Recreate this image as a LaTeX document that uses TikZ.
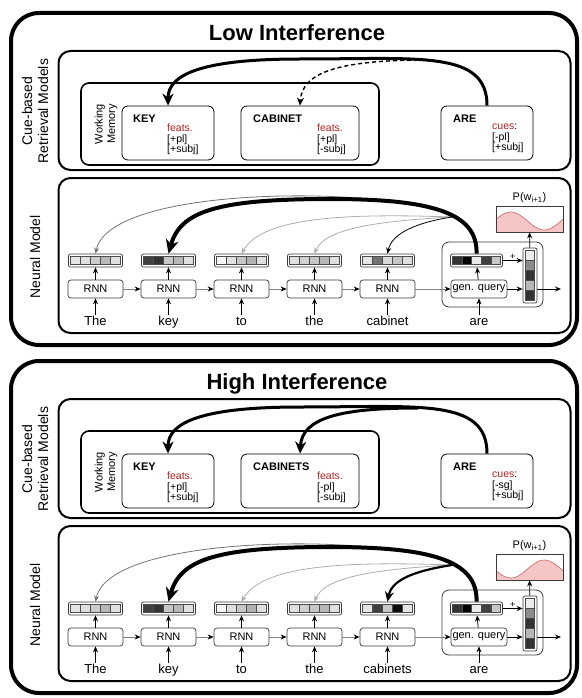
\documentclass[tikz,border=0pt]{standalone}
\usepackage{fontspec}
\setmainfont{Liberation Sans}
\usetikzlibrary{arrows.meta}
\definecolor{featred}{HTML}{B22222}
\definecolor{plotpink}{HTML}{F6C6C6}
\definecolor{plotline}{HTML}{C86464}
\definecolor{boxgray}{HTML}{3A3A3A}
\tikzset{
  outerbox/.style={draw, line width=4pt, rounded corners=28pt},
  panel/.style={draw, line width=2pt, rounded corners=12pt},
  wmbox/.style={draw, line width=1.6pt, rounded corners=8pt},
  itembox/.style={draw, line width=0.8pt, rounded corners=6pt},
  grpbox/.style={draw=boxgray, line width=0.8pt, rounded corners=7pt},
  itemname/.style={anchor=base west, inner sep=0pt, font=\bfseries\fontsize{11}{13}\selectfont},
  featlab/.style={anchor=north west, inner sep=0pt, align=left, font=\fontsize{10.5}{10.5}\selectfont},
  sidelab/.style={rotate=90, align=center, font=\fontsize{14}{16}\selectfont},
  rnnbox/.style={draw=boxgray, line width=0.7pt, rounded corners=3pt, minimum width=55pt, minimum height=18pt, inner sep=0pt, font=\fontsize{11}{13}\selectfont},
  vecbox/.style={draw=boxgray, line width=0.7pt, rounded corners=2pt, minimum width=54pt, minimum height=13pt, inner sep=0pt},
  cell/.style={draw=black!70, line width=0.5pt},
  word/.style={font=\fontsize{13}{15}\selectfont, text height=9.5pt, text depth=3pt, inner sep=1pt},
  uparr/.style={line width=0.8pt, -{Stealth[length=6pt,width=5pt]}},
  flowarr/.style={draw=black!50, line width=0.8pt, -{Stealth[length=6pt,width=5pt,color=black]}},
  cuearr/.style={line width=3pt, -{Stealth[length=12pt,width=11pt]}},
  cuedash/.style={line width=1.4pt, dash pattern=on 4pt off 3pt, -{Stealth[length=8pt,width=7pt]}},
  attnthick/.style={line width=4pt, -{Stealth[length=14pt,width=13pt]}},
  attnmid/.style={line width=2.2pt, -{Stealth[length=10pt,width=9pt]}},
  attnthin/.style={line width=0.8pt, -{Stealth[length=6pt,width=5pt]}}
}
\begin{document}
\begin{tikzpicture}[x=1pt, y=-1pt]
\useasboundingbox (0,0) rectangle (581,698);
\foreach \dy/\ttl/\noun/\nfeat/\cue/\word/\amp in {0/Low Interference/CABINET/+pl/-pl/cabinet/9, 348/High Interference/CABINETS/-pl/-sg/cabinets/-9}{
\begin{scope}[shift={(0,\dy)}]
\ifnum\dy=0 \def\vfive{10,55,15,22,12}\else\def\vfive{10,75,22,95,10}\fi
\node[outerbox, minimum width=566pt, minimum height=332pt] (outer) at (294,179) {};
\node[font=\bfseries\fontsize{22}{26}\selectfont, anchor=base] (title) at (297,41) {\ttl};
% cue-based retrieval
\node[panel, minimum width=512pt, minimum height=119pt] (cuepanel) at (314.5,110.5) {};
\node[sidelab] (cuelab) at (35,111) {Cue-based\\Retrieval Models};
\node[wmbox, minimum width=298pt, minimum height=82pt] (wm) at (230,124) {};
\node[rotate=90, align=center, font=\fontsize{11}{12.5}\selectfont] (wmlab) at (106,124) {Working\\Memory};
\node[itembox, minimum width=92pt, minimum height=54pt] (keyb) at (168,133) {};
\node[itembox, minimum width=118pt, minimum height=54pt] (cabb) at (300,133) {};
\node[itembox, minimum width=92pt, minimum height=54pt] (areb) at (487,133) {};
\node[itemname] (keyn) at (133,122) {KEY};
\node[featlab] (keyf) at (167,124) {\textcolor{featred}{feats.}\\{[+pl]}\\{[+subj]}};
\node[itemname] (cabn) at (253,122) {\noun};
\node[featlab] (cabf) at (317,124) {\textcolor{featred}{feats.}\\{[\nfeat]}\\{[-subj]}};
\node[itemname] (aren) at (453,122) {ARE};
\node[featlab] (aref) at (492,124) {\textcolor{featred}{cues}:\\{[\cue]}\\{[+subj]}};
\coordinate (split) at (418,60);
\draw[cuearr] (areb.north) .. controls (487,50) and (420,59) .. (300,59) .. controls (200,59) and (168,75) .. (keyb.north);
\ifnum\dy=0
  \draw[cuedash] (split) .. controls (340,61) and (302,72) .. (cabb.north);
\else
  \draw[cuearr] (split) .. controls (340,60) and (302,70) .. (cabb.north);
\fi
% neural model
\node[panel, minimum width=512pt, minimum height=155pt] (nnpanel) at (314.5,255.5) {};
\node[sidelab] (nnlab) at (35,257) {Neural Model};
\edef\cols{95.5/The/{10,12,20,28,12},168.5/key/{75,80,22,28,12},241.5/to/{3,12,22,30,12},314.5/the/{12,18,22,28,12},387.5/\word/{\vfive}}
\foreach \x/\w/\sh [count=\i] in \cols {
  \node[rnnbox] (rnn\i) at (\x,289) {RNN};
  \node[vecbox] (vec\i) at (\x,260.5) {};
  \foreach \s [count=\j] in \sh
    \filldraw[cell, fill=black!\s] ({\x-25+(\j-1)*10},256.5) rectangle +(10,8);
  \node[word] (w\i) at (\x,322) {\w};
  \draw[uparr] (w\i) -- (rnn\i);
  \draw[uparr] (rnn\i) -- (vec\i);
}
\foreach \i/\j in {1/2,2/3,3/4,4/5}
  \draw[flowarr] (rnn\i) -- (rnn\j);
\node[grpbox, minimum width=101pt, minimum height=65pt] (grp) at (492.5,274.5) {};
\node[rnnbox, minimum width=56pt] (gq) at (479,289) {gen. query};
\node[vecbox, minimum width=52pt] (qv) at (476.5,260.5) {};
\foreach \s [count=\j] in {80,100,8,75,22}
  \filldraw[cell, fill=black!\s] ({452.5+(\j-1)*9.6},256.5) rectangle +(9.6,8);
\node[vecbox, minimum width=14pt, minimum height=55pt] (tv) at (530,275.5) {};
\foreach \s [count=\j] in {8,45,80,28,80}
  \filldraw[cell, fill=black!\s] (525.5,{250.5+(\j-1)*10}) rectangle +(9,10);
\node[word] (wq) at (479,322) {are};
\draw[uparr] (wq) -- (gq);
\draw[uparr] (gq) -- (qv);
\draw[flowarr] (rnn5) -- (gq);
\draw[uparr] (qv.east) -- (qv.east -| tv.west) node[midway, above, font=\fontsize{9}{10}\selectfont, inner sep=1pt] {+};
\draw[uparr] (gq.east) -- (gq.east -| tv.west);
\coordinate (out) at (561,289);
\draw[uparr] (tv.east |- gq.east) -- (out);
\fill[plotpink] (496,232) -- plot[variable=\t, domain=0:1, samples=40] ({496+67*\t}, {221-\amp*cos(360*(\t-0.22))}) -- (563,232) -- cycle;
\draw[plotline, line width=0.6pt] plot[variable=\t, domain=0:1, samples=40] ({496+67*\t}, {221-\amp*cos(360*(\t-0.22))});
\node[draw=boxgray, line width=0.7pt, minimum width=67pt, minimum height=26pt, inner sep=0pt] (plot) at (529.5,219) {};
\node[font=\fontsize{11}{13}\selectfont] (plab) at (529.5,198) {P(w\textsubscript{i+1})};
\draw[uparr] (tv) -- (plot);
% attention over past states
\coordinate (src) at (452,217);
\draw[attnthin, draw=black!55] (src) .. controls (400,186) and (110,183) .. (vec1.north);
\draw[attnthin, draw=black!32] (src) .. controls (340,213) and (262,218) .. (vec3.north);
\draw[attnthin, draw=black!32] (src) .. controls (380,221) and (325,228) .. (vec4.north);
\ifnum\dy=0
  \draw[attnthin] (src) .. controls (420,222) and (392,232) .. (vec5.north);
\else
  \draw[attnmid] (src) .. controls (420,222) and (392,230) .. (vec5.north);
\fi
\draw[attnthick] (qv.north) .. controls (478,212) and (430,199) .. (330,199) .. controls (215,199) and (180,212) .. (vec2.north);
\end{scope}
}
\end{tikzpicture}
\end{document}
